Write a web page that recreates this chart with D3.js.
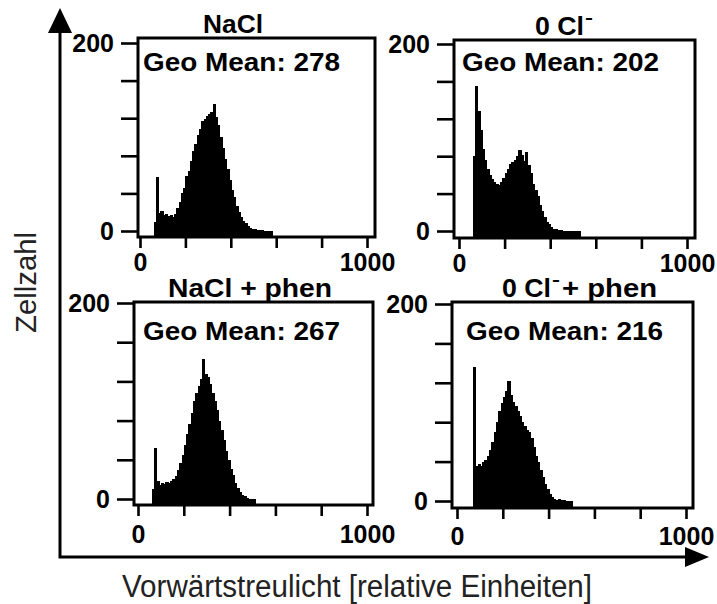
<!DOCTYPE html>
<html><head><meta charset="utf-8">
<script src="https://cdn.jsdelivr.net/npm/d3@7"></script>
<style>body{margin:0;background:#fff} svg{display:block}</style>
</head><body>
<svg id="c" width="717" height="604"></svg>
<script>
// ---------------- DATA ----------------
const binWidth = 10;
const binStarts = [60,70,80,90,100,110,120,130,140,150,
                   160,170,180,190,200,210,220,230,240,250,
                   260,270,280,290,300,310,320,330,340,350,
                   360,370,380,390,400,410,420,430,440,450,
                   460,470,480,490,500,510,520,530,540,550,
                   560,570,580];
const countsNaCl = [10,57,19,21,17,18,16,17,15,18,
                    24,31,40,46,58,64,74,85,93,102,
                    109,117,119,122,124,127,135,121,113,100,
                    88,77,66,54,44,36,27,20,15,11,
                    8,5,3,2,2,1,1,1,0,0,
                    0,0,null];
const countsCl0 = [80,155,128,108,88,76,66,60,56,52,
                   50,49,52,57,62,66,72,74,76,80,
                   87,81,75,84,71,62,50,44,37,28,
                   21,15,10,7,4,2,2,1,1,0,
                   0,0,0,0,0,0,0,null,null,null,
                   null,null,null];
const countsNaClPhen = [10,52,18,14,16,15,17,16,18,20,
                        23,30,37,45,55,66,77,88,100,108,
                        115,122,143,128,124,117,108,100,91,80,
                        70,60,49,40,31,24,16,11,7,4,
                        3,1,0,0,0,null,null,null,null,null,
                        null,null,null];
const countsCl0Phen = [null,136,36,38,36,40,42,46,52,60,
                       70,80,91,100,106,112,122,108,101,96,
                       91,86,80,76,72,70,64,55,46,40,
                       31,24,17,12,7,4,2,1,2,1,
                       1,0,0,0,null,null,null,null,null,null,
                       null,null,null];
const series = [countsNaCl, countsCl0, countsNaClPhen, countsCl0Phen];
const titleMain = ["NaCl", "0 Cl", "NaCl + phen", "0 Cl"];
const titleSup  = ["", "-", "", "-"];
const titleTail = ["", "", "", "+ phen"];
const geoMeans = [278, 202, 267, 216];
const geoLabel = "Geo Mean: ";
const yTickValues = [0, 40, 80, 120, 160, 200];
const yTickLabeled = [0, 200];
const xTickValues = [0, 200, 400, 600, 800, 1000];
const xTickLabeled = [0, 1000];
const xAxisTitle = "Vorwärtstreulicht [relative Einheiten]";
const yAxisTitle = "Zellzahl";

// ---------------- LAYOUT ----------------
const layout = [
  {bx:138, by:38,  bw:237, bh:199, x0:140, x1:367, y0:231, y1:43,  tx:203, ty:33,  tw:60,  sx:0,   tlx:0,   tlw:0,  gx:143, gy:71,  xoff:34},
  {bx:454, by:40,  bw:241, bh:198, x0:459, x1:687, y0:231, y1:44,  tx:535, ty:35,  tw:49,  sx:585, tlx:0,   tlw:0,  gx:462, gy:71,  xoff:34},
  {bx:134, by:302, bw:239, bh:203, x0:138, x1:367, y0:499, y1:303, tx:168, ty:297, tw:164, sx:0,   tlx:0,   tlw:0,  gx:143, gy:340, xoff:38},
  {bx:452, by:302, bw:241, bh:206, x0:457, x1:686, y0:501, y1:304, tx:502, ty:297, tw:49,  sx:552, tlx:562, tlw:95, gx:466, gy:340, xoff:37}
];
const FONT = "'Liberation Sans', Arial, Helvetica, sans-serif";

const svg = d3.select("#c");

series.forEach((counts, i) => {
  const L = layout[i];
  const x = d3.scaleLinear().domain([0, 1000]).range([L.x0, L.x1]);
  const y = d3.scaleLinear().domain([0, 200]).range([L.y0, L.y1]);
  const g = svg.append("g");
  const base = L.by + L.bh;

  const bins = binStarts.map((b, j) => ({b, c: counts[j]})).filter(d => d.c != null);
  g.selectAll("rect.bar").data(bins).join("rect")
    .attr("class", "bar")
    .attr("x", d => x(d.b))
    .attr("width", d => x(d.b + binWidth) - x(d.b) + 1)
    .attr("y", d => y(d.c))
    .attr("height", d => base - y(d.c))
    .attr("fill", "#000")
    .attr("shape-rendering", "crispEdges");

  g.append("rect")
    .attr("x", L.bx).attr("y", L.by).attr("width", L.bw).attr("height", L.bh)
    .attr("fill", "none").attr("stroke", "#000").attr("stroke-width", 3);

  const ya = d3.axisLeft(y).tickValues(yTickValues).tickSize(16).tickPadding(7)
    .tickFormat(d => yTickLabeled.includes(d) ? d : "");
  const yg = g.append("g").attr("transform", `translate(${L.bx - 1},0)`).call(ya);
  yg.select(".domain").remove();
  yg.selectAll(".tick line").attr("stroke", "#000").attr("stroke-width", 2.6);
  yg.selectAll(".tick text").attr("fill", "#000");
  yg.attr("font-size", 25).attr("font-weight", "bold").attr("font-family", FONT);

  const xa = d3.axisBottom(x).tickValues(xTickValues).tickSize(11).tickPadding(L.xoff - 11 - 17.75)
    .tickFormat(d => xTickLabeled.includes(d) ? d : "");
  const xg = g.append("g").attr("transform", `translate(0,${base})`).call(xa);
  xg.select(".domain").remove();
  xg.selectAll(".tick line").attr("stroke", "#000").attr("stroke-width", 2.6);
  xg.selectAll(".tick text").attr("fill", "#000");
  xg.attr("font-size", 25).attr("font-weight", "bold").attr("font-family", FONT);

  // title
  const tg = g.append("g").attr("font-family", FONT).attr("font-weight", "bold").attr("fill", "#000");
  tg.append("text").attr("x", L.tx).attr("y", L.ty).attr("font-size", 25)
    .attr("textLength", L.tw).attr("lengthAdjust", "spacingAndGlyphs").text(titleMain[i]);
  if (titleSup[i]) {
    tg.append("text").attr("x", L.sx).attr("y", L.ty - 12).attr("font-size", 17)
      .attr("textLength", 8).attr("lengthAdjust", "spacingAndGlyphs").text(titleSup[i]);
  }
  if (titleTail[i]) {
    tg.append("text").attr("x", L.tlx).attr("y", L.ty).attr("font-size", 25)
      .attr("textLength", L.tlw).attr("lengthAdjust", "spacingAndGlyphs").text(titleTail[i]);
  }
  // geo mean
  g.append("text").attr("x", L.gx).attr("y", L.gy)
    .attr("font-family", FONT).attr("font-weight", "bold").attr("font-size", 25)
    .attr("textLength", 197).attr("lengthAdjust", "spacingAndGlyphs")
    .attr("fill", "#000").text(geoLabel + geoMeans[i]);
});

// main axes with arrows
svg.append("path").attr("d", "M60,33 L60,557 L686,557")
  .attr("fill", "none").attr("stroke", "#000").attr("stroke-width", 3);
svg.append("path").attr("d", "M48,33 L72,33 L60,8 Z").attr("fill", "#000");
svg.append("path").attr("d", "M685,547 L685,567 L709,557 Z").attr("fill", "#000");

svg.append("text").attr("x", 122).attr("y", 597)
  .attr("font-family", FONT).attr("font-size", 31).attr("fill", "#222")
  .attr("textLength", 470).attr("lengthAdjust", "spacingAndGlyphs").text(xAxisTitle);
svg.append("text").attr("transform", "translate(36,333) rotate(-90)")
  .attr("font-family", FONT).attr("font-size", 30).attr("fill", "#222")
  .attr("textLength", 101).attr("lengthAdjust", "spacingAndGlyphs").text(yAxisTitle);
</script>
</body></html>
